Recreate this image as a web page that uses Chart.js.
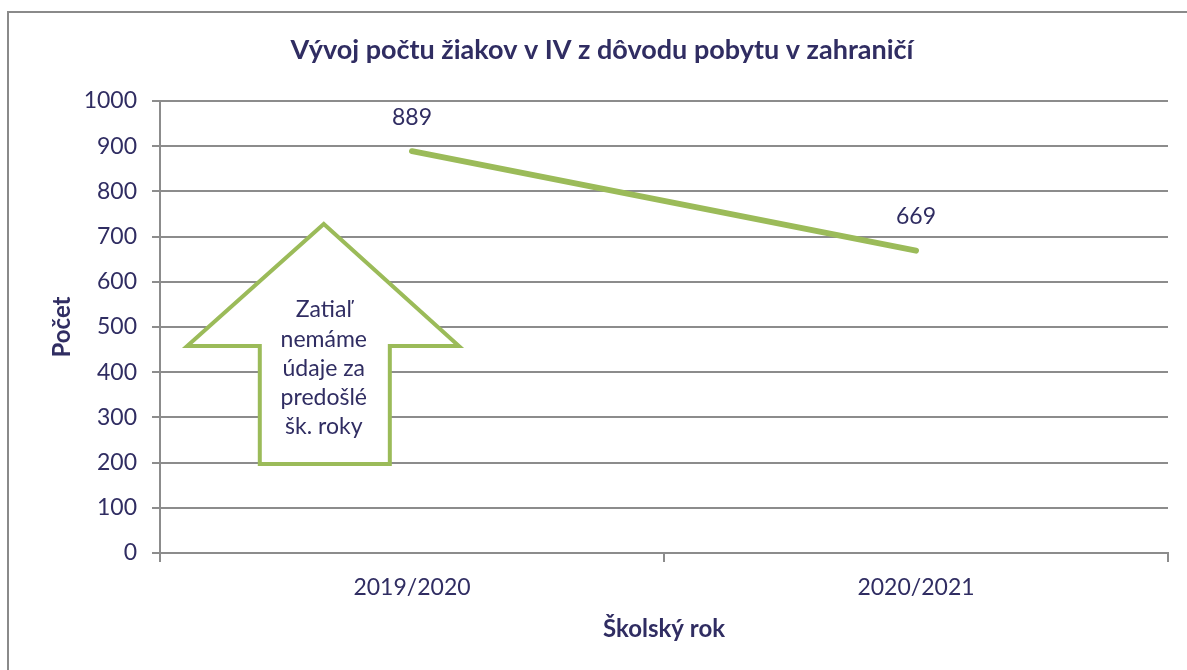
<!DOCTYPE html>
<html>
<head>
<meta charset="utf-8">
<script src="https://cdn.jsdelivr.net/npm/chart.js@4/dist/chart.umd.min.js"></script>
<style>
  html, body { margin: 0; padding: 0; background: #fff; overflow: hidden; }
  #wrap { position: relative; width: 1187px; height: 670px; }
  #frame { position: absolute; left: 7px; top: 11px; width: 1300px; height: 800px; border: 2px solid #8a8a8a; }
  canvas { position: absolute; left: 0; top: 0; }
</style>
</head>
<body>
<div id="wrap">
  <div id="frame"></div>
  <canvas id="chart" width="1187" height="670"></canvas>
</div>
<script>
const years = ['2019/2020', '2020/2021'];
const pupils = [889, 669];
const yTicks = [0, 100, 200, 300, 400, 500, 600, 700, 800, 900, 1000];
const titleText = 'Vývoj počtu žiakov v IV z dôvodu pobytu v zahraničí';
const arrowLines = ['Zatiaľ', 'nemáme', 'údaje za', 'predošlé', 'šk. roky'];

// arrow outline in data space: [category index, value]
const arrowShape = [
  [-0.175, 728], [0.093, 458], [-0.044, 458], [-0.044, 197],
  [-0.302, 197], [-0.302, 458], [-0.446, 458]
];

const ink = '#302d62';
const green = '#9bbb59';
const gridGray = '#8c8c8c';
const font = 'Lato, "Open Sans", sans-serif';

const extras = {
  id: 'extras',
  afterDatasetsDraw(chart) {
    const { ctx, scales: { x, y } } = chart;
    ctx.save();
    // title
    ctx.fillStyle = ink;
    ctx.font = 'bold 27px ' + font;
    ctx.textAlign = 'center';
    ctx.textBaseline = 'middle';
    ctx.fillText(titleText, 602, 50);

    // arrow annotation
    ctx.beginPath();
    arrowShape.forEach(([i, v], k) => {
      const px = x.getPixelForValue(i), py = y.getPixelForValue(v);
      if (k === 0) ctx.moveTo(px, py); else ctx.lineTo(px, py);
    });
    ctx.closePath();
    ctx.fillStyle = '#fff';
    ctx.fill();
    ctx.lineWidth = 4;
    ctx.lineJoin = 'miter';
    ctx.strokeStyle = green;
    ctx.stroke();

    ctx.fillStyle = ink;
    ctx.font = '23px ' + font;
    const cx = x.getPixelForValue(-0.175);
    arrowLines.forEach((t, k) => {
      ctx.fillText(t, cx, y.getPixelForValue(538) + k * 29.3);
    });

    // data labels
    ctx.font = '23px ' + font;
    const meta = chart.getDatasetMeta(0);
    meta.data.forEach((pt, k) => {
      ctx.fillText(String(pupils[k]), pt.x, pt.y - 34);
    });
    ctx.restore();
  }
};

new Chart(document.getElementById('chart'), {
  type: 'line',
  data: {
    labels: years,
    datasets: [{
      data: pupils,
      borderColor: green,
      borderWidth: 6,
      borderCapStyle: 'round',
      pointRadius: 0,
      tension: 0,
      clip: false
    }]
  },
  options: {
    responsive: false,
    animation: false,
    layout: { padding: { left: 0, right: 19, top: 101, bottom: 0 } },
    plugins: { legend: { display: false }, tooltip: { enabled: false } },
    scales: {
      x: {
        offset: true,
        grid: { display: true, offset: true, drawOnChartArea: false, drawTicks: true, tickLength: 9, color: gridGray, lineWidth: 2 },
        border: { display: true, color: gridGray, width: 2 },
        ticks: { color: ink, font: { family: font, size: 23 }, padding: 12 },
        title: { display: true, text: 'Školský rok', color: ink, font: { family: font, size: 24, weight: 'bold' }, padding: { top: 0, bottom: 26 } },
        afterFit: s => { s.height = 117; }
      },
      y: {
        min: 0,
        max: 1000,
        afterBuildTicks: s => { s.ticks = yTicks.map(v => ({ value: v })); },
        grid: { color: gridGray, lineWidth: 2, tickLength: 8 },
        border: { display: true, color: gridGray, width: 2 },
        ticks: { color: ink, font: { family: font, size: 23 }, padding: 15, callback: v => String(v) },
        title: { display: true, text: 'Počet', color: ink, font: { family: font, size: 24, weight: 'bold' }, padding: { top: 48, bottom: 0 } },
        afterFit: s => { s.width = 160; }
      }
    }
  },
  plugins: [extras]
});
</script>
</body>
</html>
